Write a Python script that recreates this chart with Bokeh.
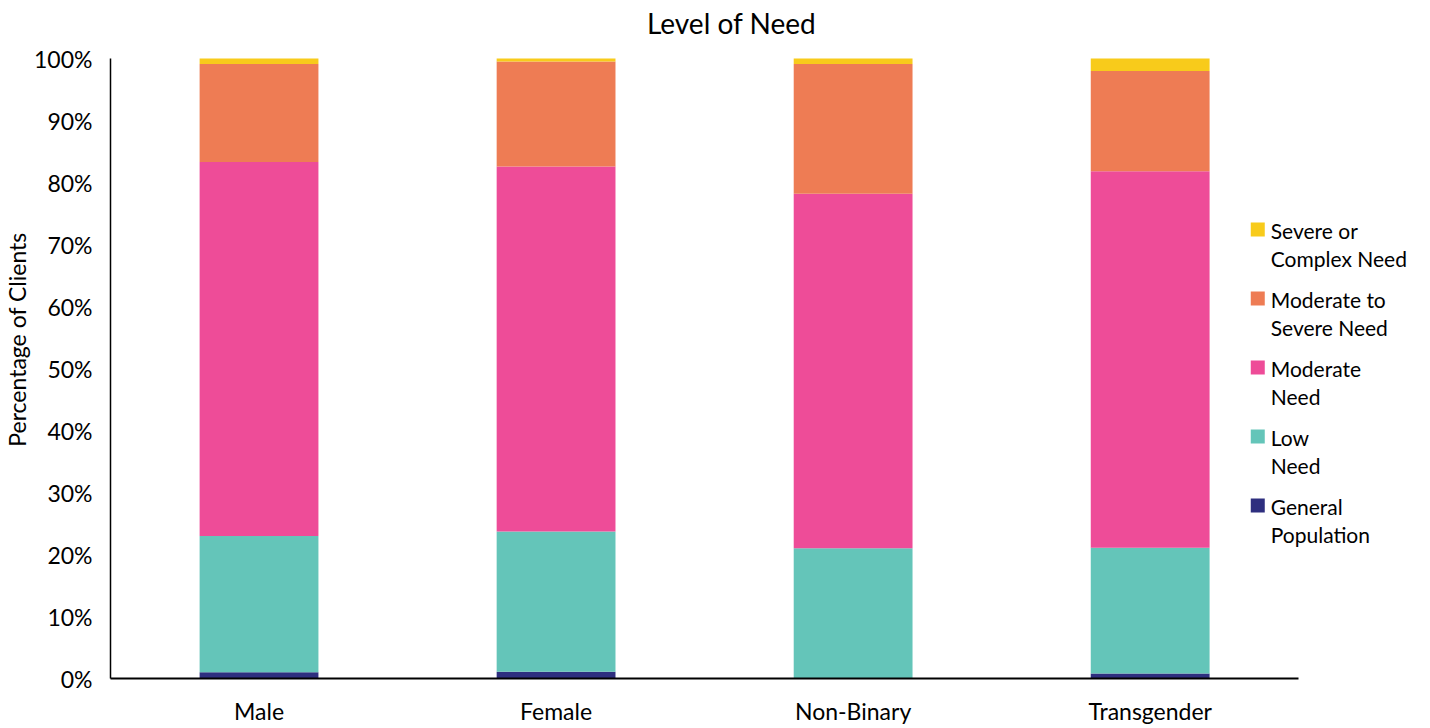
from bokeh.plotting import figure
from bokeh.models import Label, PrintfTickFormatter, FixedTicker, Range1d, ColumnDataSource
from bokeh.core.properties import value
from bokeh.embed import file_html
from bokeh.resources import INLINE

# Share of clients at each level of need, by gender (percent)
genders = ["Male", "Female", "Non-Binary", "Transgender"]
general_population = [1.0, 1.1, 0.0, 0.8]
low_need = [22.0, 22.6, 21.0, 20.3]
moderate_need = [60.3, 58.9, 57.2, 60.7]
moderate_to_severe = [15.8, 16.9, 20.9, 16.2]
severe_or_complex = [0.9, 0.5, 0.9, 2.0]

levels = ["general", "low", "moderate", "modsev", "severe"]
level_labels = ["General\nPopulation", "Low\nNeed", "Moderate\nNeed",
                "Moderate to\nSevere Need", "Severe or\nComplex Need"]
colors = ["#2E2F7F", "#64C5B9", "#EE4C98", "#EE7C54", "#F8CB1B"]

FONT = "Lato"

# Canvas geometry (pixels)
W, H = 1430, 728
LEFT, BOTTOM = 108, 50
CAT_PX = 297.5          # width of one category slot
PCT_PX = 6.2            # pixels per percentage point
frame_w = W - LEFT
frame_h = H - BOTTOM

x_end = frame_w / CAT_PX
y_end = frame_h / PCT_PX


def dx(px):
    """Canvas x pixel -> data x."""
    return (px - LEFT) / CAT_PX


def dy(py):
    """Canvas y pixel (from top) -> data y."""
    return (H - BOTTOM - py) / PCT_PX


xpos = [i + 0.5 for i in range(len(genders))]
data = dict(x=xpos, general=general_population, low=low_need,
            moderate=moderate_need, modsev=moderate_to_severe, severe=severe_or_complex)

p = figure(x_range=Range1d(0, x_end), y_range=Range1d(0, y_end), width=W, height=H,
           output_backend="svg", toolbar_location=None,
           min_border_left=LEFT, min_border_right=0, min_border_top=0,
           min_border_bottom=BOTTOM)

renderers = p.vbar_stack(levels, x="x", width=0.4, source=data, color=colors,
                         line_color=None)

# Y axis
p.yaxis.bounds = (0, 100)
p.yaxis.ticker = FixedTicker(ticks=list(range(0, 101, 10)))
p.yaxis.formatter = PrintfTickFormatter(format="%d%%")
p.yaxis.axis_label = "Percentage of Clients"
p.yaxis.axis_label_text_font = FONT
p.yaxis.axis_label_text_font_style = "normal"
p.yaxis.axis_label_text_font_size = "23px"
p.yaxis.axis_label_text_color = "#000000"
p.yaxis.axis_label_standoff = 0
p.yaxis.major_label_text_font = FONT
p.yaxis.major_label_text_font_size = "23px"
p.yaxis.major_label_text_color = "#000000"
p.yaxis.major_label_standoff = 18
p.yaxis.axis_line_color = "#000000"
p.yaxis.axis_line_width = 1.5
p.yaxis.major_tick_line_color = None
p.yaxis.major_tick_out = 0
p.yaxis.major_tick_in = 0
p.yaxis.minor_tick_line_color = None

# X axis (one tick per gender)
p.xaxis.bounds = (0, len(genders))
p.xaxis.ticker = FixedTicker(ticks=xpos)
p.xaxis.major_label_overrides = {x: g for x, g in zip(xpos, genders)}
p.xaxis.major_label_text_font = FONT
p.xaxis.major_label_text_font_size = "23px"
p.xaxis.major_label_text_color = "#000000"
p.xaxis.major_label_standoff = 18
p.xaxis.axis_line_color = "#000000"
p.xaxis.axis_line_width = 2
p.xaxis.major_tick_line_color = None
p.xaxis.major_tick_out = 0
p.xaxis.major_tick_in = 0
p.xaxis.minor_tick_line_color = None

p.xgrid.grid_line_color = None
p.ygrid.grid_line_color = None
p.outline_line_color = None

# Title
p.add_layout(Label(x=dx(730), y=dy(22), text="Level of Need", text_font=FONT,
                   text_font_size="28px", text_align="center", text_baseline="middle",
                   text_color="#000000"))

# Legend: highest level of need first, one swatch per level
order = list(range(len(levels) - 1, -1, -1))
legend_src = ColumnDataSource(dict(
    sx=[dx(1257)] * len(order),
    sy=[dy(229 + 69 * k) for k in range(len(order))],
    tx=[dx(1270)] * len(order),
    ty=[dy(217 + 69 * k) for k in range(len(order))],
    label=[level_labels[i] for i in order],
    color=[colors[i] for i in order],
))
p.scatter("sx", "sy", source=legend_src, marker="square", size=14,
          fill_color="color", line_color=None)
p.text("tx", "ty", text="label", source=legend_src, text_font=value(FONT),
       text_font_size="21px", text_baseline="top", text_align="left",
       text_line_height=1.15, text_color="#000000")

open("out.html", "w").write(file_html(p, INLINE))
